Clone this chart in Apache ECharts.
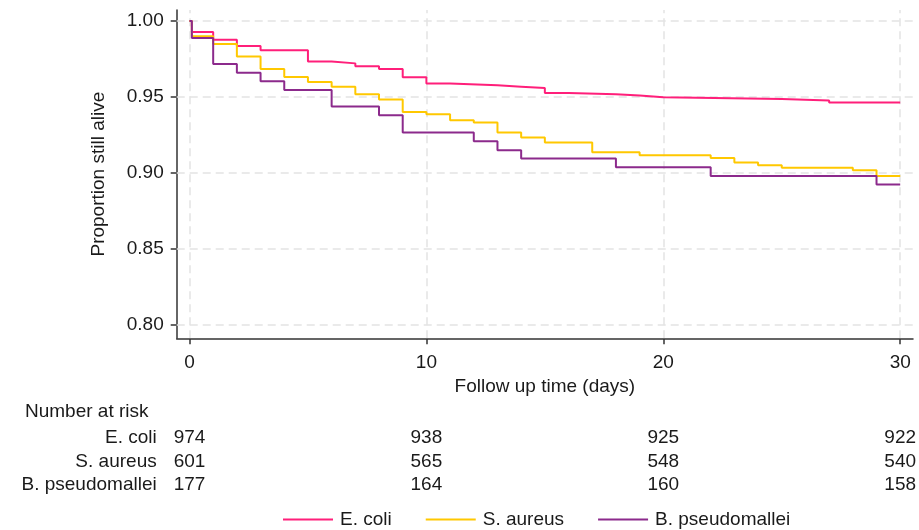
<!DOCTYPE html>
<html>
<head>
<meta charset="utf-8">
<script src="https://cdn.jsdelivr.net/npm/echarts@6/dist/echarts.min.js"></script>
<style>
html,body{margin:0;padding:0;background:#fff;}
#chart{width:919px;height:530px;}
</style>
</head>
<body>
<div id="chart"></div>
<script>
// ---- data ----
const groups = ['E. coli', 'S. aureus', 'B. pseudomallei'];
const colors = ['#ff1f7a', '#ffc800', '#8c2a8c'];

const ecoliTime = [0, 0.1, 1, 2, 3, 5, 6, 7, 8, 9, 10, 11, 13, 14, 15, 16, 18, 19, 20, 25, 27, 30];
const ecoliSurv = [1, 0.9927, 0.9877, 0.9835, 0.9807, 0.9733, 0.9721, 0.9702, 0.9684, 0.9629, 0.9588, 0.9577, 0.9568, 0.9559, 0.9526, 0.9518, 0.9509, 0.9498, 0.9487, 0.9477, 0.9463, 0.9463];

const saureusTime = [0, 0.1, 1, 2, 3, 4, 5, 6, 7, 8, 9, 10, 11, 12, 13, 14, 15, 17, 19, 22, 23, 24, 25, 28, 29, 30];
const saureusSurv = [1, 0.9899, 0.9848, 0.9767, 0.9684, 0.9631, 0.9599, 0.9568, 0.9518, 0.9483, 0.9401, 0.9386, 0.9347, 0.9332, 0.9266, 0.9233, 0.9200, 0.9137, 0.9117, 0.9099, 0.9069, 0.9051, 0.9034, 0.9018, 0.8980, 0.8980];

const bpTime = [0, 0.1, 1, 2, 3, 4, 6, 8, 9, 12, 13, 14, 18, 22, 29, 30];
const bpSurv = [1, 0.9888, 0.9717, 0.9660, 0.9603, 0.9546, 0.9437, 0.9380, 0.9266, 0.9209, 0.9150, 0.9095, 0.9038, 0.8981, 0.8924, 0.8924];

const xTicks = [0, 10, 20, 30];
const yTicks = [0.80, 0.85, 0.90, 0.95, 1.00];

const riskTimes = [0, 10, 20, 30];
const ecoliRisk = [974, 938, 925, 922];
const saureusRisk = [601, 565, 548, 540];
const bpRisk = [177, 164, 160, 158];

// ---- build ----
const FONT = '"Liberation Sans", Arial, sans-serif';
const TXT = '#1a1a1a';
const pair = (t, v) => t.map((x, i) => [x, v[i]]);
const curves = [pair(ecoliTime, ecoliSurv), pair(saureusTime, saureusSurv), pair(bpTime, bpSurv)];
const risks = [ecoliRisk, saureusRisk, bpRisk];

const X_MIN = -0.54, X_MAX = 30.54;

const series = curves.map((d, i) => ({
  name: groups[i],
  type: 'line',
  step: 'end',
  data: d,
  xAxisIndex: 0, yAxisIndex: 0,
  symbol: 'none',
  z: 3,
  lineStyle: { color: colors[i], width: 2 },
  itemStyle: { color: colors[i] },
  emphasis: { disabled: true },
  markLine: i === 0 ? {
    silent: true, symbol: 'none', z: 1, animation: false,
    label: { show: false },
    lineStyle: { color: '#e3e3e3', type: [8, 5], width: 1.5 },
    emphasis: { disabled: true },
    data: yTicks.map(v => ({ yAxis: v })).concat(xTicks.map(v => ({ xAxis: v })))
  } : undefined
}));

const riskData = [];
risks.forEach((arr, g) => arr.forEach((n, k) => riskData.push([riskTimes[k], groups[g], n])));
series.push({
  type: 'scatter',
  xAxisIndex: 1, yAxisIndex: 1,
  data: riskData,
  symbol: 'circle',
  symbolSize: 0.1,
  itemStyle: { color: '#ffffff', opacity: 1 },
  silent: true,
  label: {
    show: true, position: 'inside', opacity: 1,
    formatter: p => String(p.value[2]),
    fontSize: 19, color: TXT, fontFamily: FONT,
    textBorderWidth: 0
  }
});

const chart = echarts.init(document.getElementById('chart'), null, { renderer: 'canvas' });
chart.setOption({
  animation: false,
  backgroundColor: '#fff',
  textStyle: { fontFamily: FONT },
  title: {
    text: 'Number at risk', left: 25, top: 402, padding: 0,
    textStyle: { fontSize: 19, fontWeight: 'normal', color: TXT, fontFamily: FONT }
  },
  legend: {
    data: groups.map((g, i) => ({ name: g, icon: 'rect' })),
    left: 283, top: 510, padding: 0,
    itemWidth: 50, itemHeight: 2, itemGap: 34,
    textStyle: { fontSize: 19, color: TXT, fontFamily: FONT, padding: [0, 0, 0, 2] },
    selectedMode: false
  },
  grid: [
    { left: 176.7, right: 6, top: 10, bottom: 191.7 },
    { left: 176.7, right: 6, top: 426.3, bottom: 33.2 }
  ],
  xAxis: [
    {
      type: 'value', gridIndex: 0, min: X_MIN, max: X_MAX,
      name: 'Follow up time (days)', nameLocation: 'middle', nameGap: 38,
      nameTextStyle: { fontSize: 19, color: TXT, fontFamily: FONT },
      axisLine: { show: true, onZero: false, lineStyle: { color: '#333', width: 1.5 } },
      axisTick: { show: true, length: 6, customValues: xTicks, lineStyle: { color: '#333', width: 1.5 } },
      axisLabel: { customValues: xTicks, fontSize: 19, color: TXT, margin: 15, fontFamily: FONT },
      splitLine: { show: false }
    },
    {
      type: 'value', gridIndex: 1, min: X_MIN, max: X_MAX, show: false
    }
  ],
  yAxis: [
    {
      type: 'value', gridIndex: 0, min: 0.7913, max: 1.0072,
      name: 'Proportion still alive', nameLocation: 'middle', nameRotate: 90, nameGap: 68,
      nameTextStyle: { fontSize: 19, color: TXT, fontFamily: FONT },
      axisLine: { show: true, onZero: false, lineStyle: { color: '#333', width: 1.5 } },
      axisTick: { show: true, length: 6, customValues: yTicks, lineStyle: { color: '#333', width: 1.5 } },
      axisLabel: { customValues: yTicks, formatter: v => v.toFixed(2), fontSize: 19, color: TXT, margin: 13, fontFamily: FONT },
      splitLine: { show: false }
    },
    {
      type: 'category', gridIndex: 1, data: groups, inverse: true,
      axisLine: { show: false }, axisTick: { show: false }, splitLine: { show: false },
      axisLabel: { interval: 0, fontSize: 19, color: TXT, margin: 20, fontFamily: FONT }
    }
  ],
  series: series
});
</script>
</body>
</html>
